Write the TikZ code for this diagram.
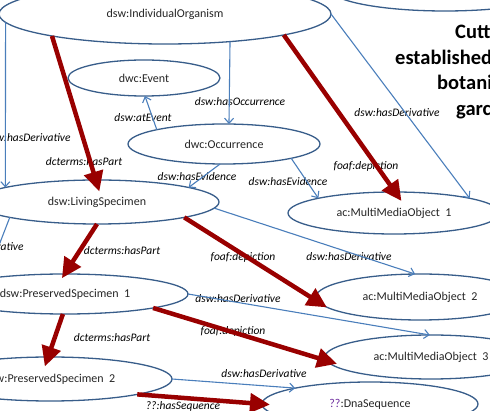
\documentclass[tikz,border=0pt]{standalone}
\usepackage{fontspec}
\setmainfont{Carlito}
\usetikzlibrary{shapes.geometric,arrows.meta}
\definecolor{ellc}{HTML}{385D8A}
\definecolor{linec}{HTML}{4A7EBB}
\definecolor{redc}{HTML}{990000}
\definecolor{txtc}{HTML}{262626}
\definecolor{qc}{HTML}{7030A0}
\begin{document}
\begin{tikzpicture}[x=1pt,y=-1pt,
 ell/.style={ellipse,draw=ellc,line width=1.3pt,fill=white,inner sep=0pt,outer sep=0pt,font=\fontsize{12}{14}\selectfont,text=txtc},
 lbl/.style={font=\fontsize{11.5}{13}\selectfont\itshape,inner sep=0pt,text=black},
 bl/.style={draw=linec,line width=1.1pt,-{Straight Barb[length=5pt,width=9pt]}},
 rd/.style={draw=redc,line width=4.5pt,-{Triangle[length=20pt,width=19pt]}},
 ttl/.style={font=\fontsize{20.5}{24}\selectfont\bfseries,inner sep=0pt,anchor=base west,text=black}]
\useasboundingbox (0,0) rectangle (490,411);
\clip (0,0) rectangle (490,411);
% ellipses
\node[ell,minimum width=230pt,minimum height=44pt] (tr) at (445,-11) {};
\node[ell,minimum width=332pt,minimum height=60pt] (io) at (165,14) {dsw:IndividualOrganism};
\node[ell,minimum width=152pt,minimum height=36pt] (ev) at (144,78) {dwc:Event};
\node[ell,minimum width=192pt,minimum height=40pt] (oc) at (224,144) {dwc:Occurrence};
\node[ell,minimum width=244pt,minimum height=44pt] (ls) at (97,202) {dsw:LivingSpecimen};
\node[ell,minimum width=212pt,minimum height=42pt] (m1) at (394,213) {ac:MultiMediaObject\ \ 1};
\node[ell,minimum width=246pt,minimum height=40pt] (p1) at (65,294) {dsw:PreservedSpecimen\ \ 1};
\node[ell,minimum width=244pt,minimum height=44pt] (p2) at (50,379) {dsw:PreservedSpecimen\ \ 2};
\node[ell,minimum width=208pt,minimum height=46pt] (m2) at (420,297) {ac:MultiMediaObject\ \ 2};
\node[ell,minimum width=212pt,minimum height=44pt] (m3) at (431,357) {ac:MultiMediaObject\ \ 3};
\node[ell,minimum width=216pt,minimum height=44pt] (dna) at (370,404) {\textcolor{qc}{??}:DnaSequence};
% title
\node[ttl] (t1) at (455,39) {Cutt};
\node[ttl] (t2) at (395,65) {established};
\node[ttl] (t3) at (437,90) {botani};
\node[ttl] (t4) at (456,116) {garc};
% labels
\node[lbl] (l1) at (28,138) {dsw:hasDerivative};
\node[lbl] (l2) at (-19,247) {dsw:hasDerivative};
\node[lbl] (l3) at (240,102) {dsw:hasOccurrence};
\node[lbl] (l4) at (143,118) {dsw:atEvent};
\node[lbl] (l5) at (197,177) {dsw:hasEvidence};
\node[lbl] (l6) at (288,182) {dsw:hasEvidence};
\node[lbl] (l7) at (397,113) {dsw:hasDerivative};
\node[lbl] (l8) at (349,257) {dsw:hasDerivative};
\node[lbl] (l9) at (238,299) {dsw:hasDerivative};
\node[lbl] (l10) at (264,374) {dsw:hasDerivative};
\node[lbl] (l11) at (84,162) {dcterms:hasPart};
\node[lbl] (l12) at (366,166) {foaf:depiction};
\node[lbl] (l13) at (122,251) {dcterms:hasPart};
\node[lbl] (l14) at (243,257) {foaf:depiction};
\node[lbl] (l15) at (112,338) {dcterms:hasPart};
\node[lbl] (l16) at (233,331) {foaf:depiction};
\node[lbl] (l17) at (183,406) {??:hasSequence};
% blue connectors
\draw[bl] (io.183) -- (ls.171);
\draw[bl] (ls.190) -- (p1.169);
\draw[bl] (io.-23) -- (oc.76);
\draw[bl] (oc.168) -- (ev.-87);
\draw[bl] (oc.259) -- (ls.9);
\draw[bl] (oc.-12) -- (m1.169);
\draw[bl] (io.0) -- (m1.11);
\draw[bl] (ls.-3) -- (m2.102);
\draw[bl] (p1.0) -- (m3.93);
\draw[bl] (p2.0) -- (dna.168);
% red connectors
\draw[rd,shorten >=-12pt] (io.191) -- (ls.93);
\draw[rd,shorten >=-11pt] (io.-10) -- (m1.87);
\draw[rd,shorten >=-5pt] (ls.270) -- (p1.91);
\draw[rd,shorten >=-1pt] (ls.-10) -- (m2.186);
\draw[rd,shorten >=-10pt] (p1.264) -- (p2.95);
\draw[rd,shorten >=-11pt] (p1.-9) -- (m3.182);
\draw[rd,shorten >=-8pt] (p2.-10) -- (dna.180);
\end{tikzpicture}
\end{document}
